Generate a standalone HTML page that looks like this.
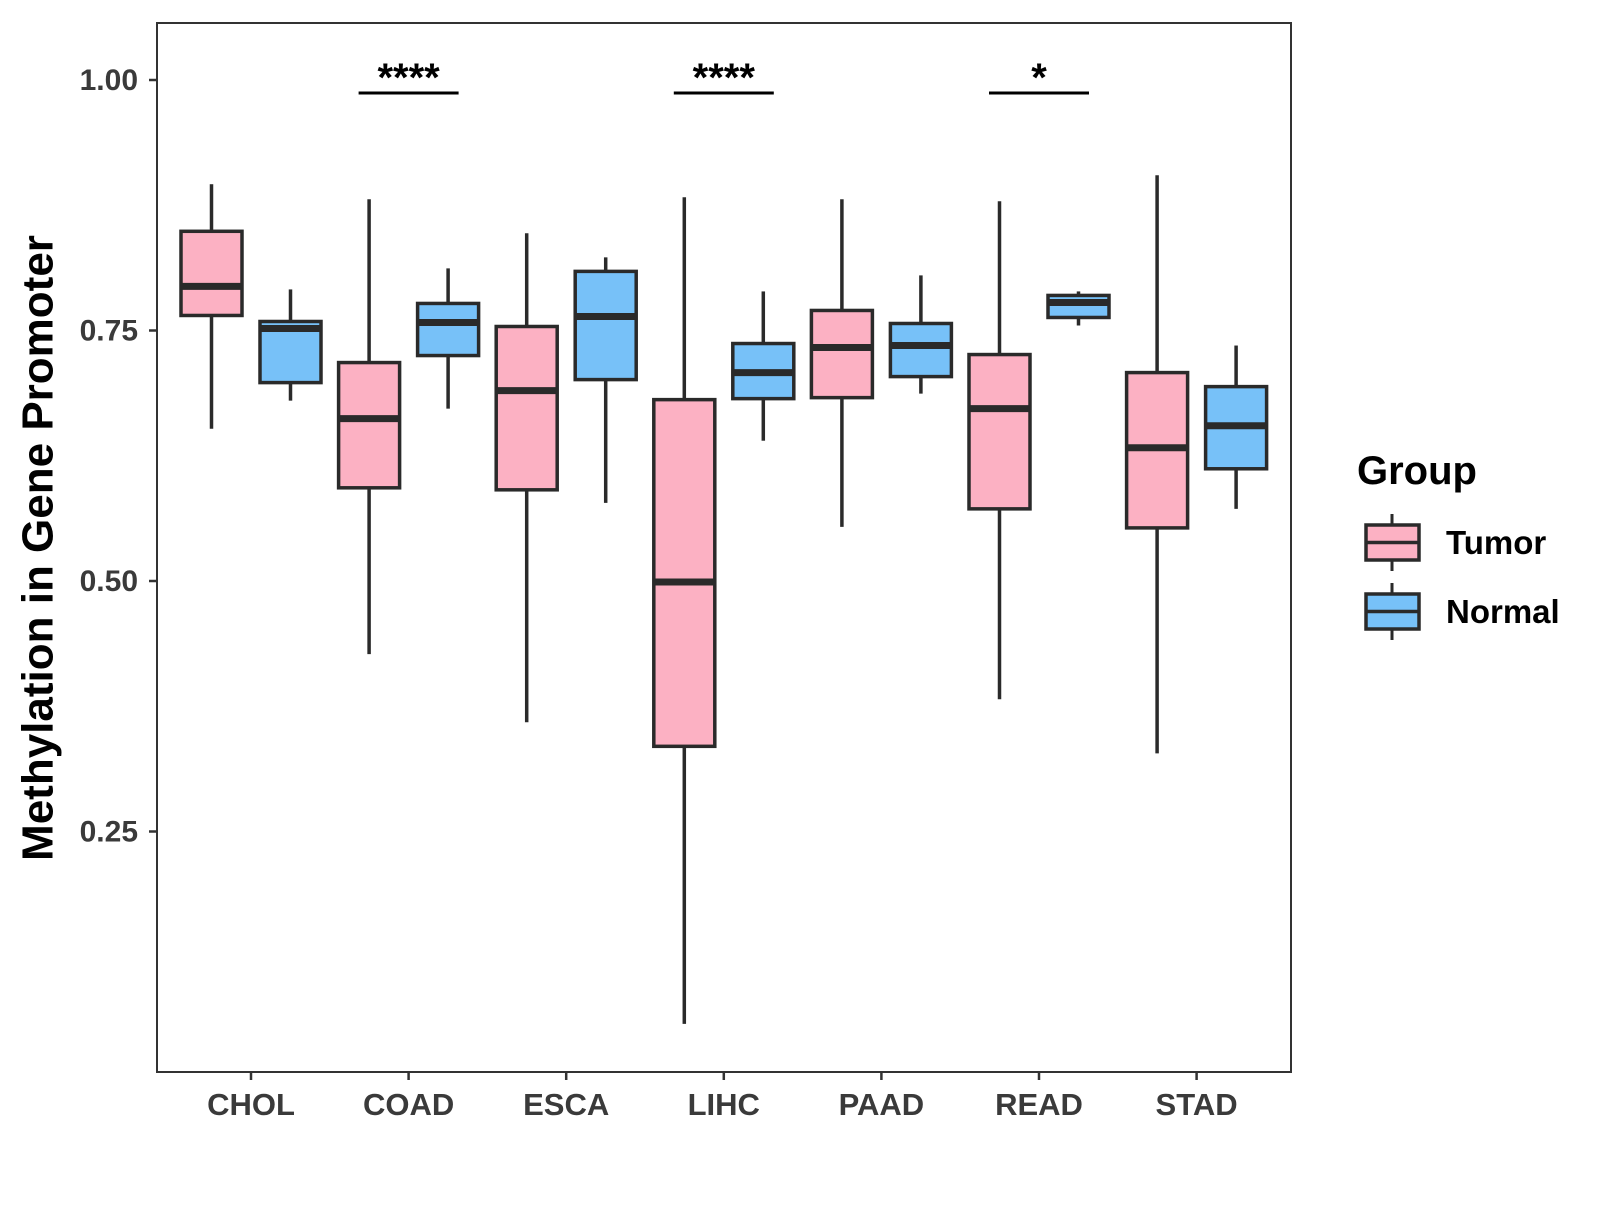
<!DOCTYPE html>
<html><head><meta charset="utf-8"><style>
body{margin:0;background:#fff}
svg text{font-family:"Liberation Sans",Arial,sans-serif;font-weight:bold}
</style></head><body>
<svg id="chart" width="1600" height="1200" xmlns="http://www.w3.org/2000/svg">
<rect x="157" y="23" width="1134" height="1049" fill="#fff" stroke="#333" stroke-width="2"/>
<g id="marks"></g>
<text x="38" y="548" transform="rotate(-90 38 548)" text-anchor="middle" dominant-baseline="central" font-size="44" fill="#000">Methylation in Gene Promoter</text>
<g>
<text x="1357" y="484" font-size="40" fill="#000">Group</text>
</g>
</svg>
<script>
const categories=["CHOL","COAD","ESCA","LIHC","PAAD","READ","STAD"];
const tumorLow=[0.652,0.427,0.359,0.058,0.554,0.382,0.328];
const tumorQ1=[0.765,0.593,0.591,0.335,0.683,0.572,0.553];
const tumorMed=[0.794,0.662,0.690,0.499,0.733,0.672,0.633];
const tumorQ3=[0.849,0.718,0.754,0.681,0.770,0.726,0.708];
const tumorHigh=[0.896,0.881,0.847,0.883,0.881,0.879,0.905];
const normalLow=[0.680,0.672,0.578,0.640,0.687,0.755,0.572];
const normalQ1=[0.698,0.725,0.701,0.682,0.704,0.763,0.612];
const normalMed=[0.752,0.758,0.764,0.708,0.735,0.778,0.655];
const normalQ3=[0.759,0.777,0.809,0.737,0.757,0.785,0.694];
const normalHigh=[0.791,0.812,0.823,0.789,0.805,0.789,0.735];
const yTicks=[0.25,0.50,0.75,1.00];
const yTickLabels=["0.25","0.50","0.75","1.00"];
const sigCategories=["COAD","LIHC","READ"];
const sigLabels=["****","****","*"];
const legendLabels=["Tumor","Normal"];
const colors=["#FCB1C3","#77C1F8"];

const NS="http://www.w3.org/2000/svg";
const svg=document.getElementById('chart');
const g=document.getElementById('marks');
const y=v=>80+(1-v)*1002;
const x=i=>251+i*157.6;
function mk(tag,attrs,parent){const e=document.createElementNS(NS,tag);for(const k in attrs)e.setAttribute(k,attrs[k]);(parent||g).appendChild(e);return e;}

yTicks.forEach((t,i)=>{
  const l=mk('line',{x1:149,x2:157,y1:y(t),y2:y(t),stroke:'#333','stroke-width':2.5},svg);
  
  
  const tx=mk('text',{x:138,y:y(t)+10,'text-anchor':'end','font-size':30,fill:'#3a3a3a'},svg);
  tx.textContent=yTickLabels[i];
  
  
});
categories.forEach((c,i)=>{
  const l=mk('line',{x1:x(i),x2:x(i),y1:1072,y2:1080,stroke:'#333','stroke-width':2.5},svg);
  
  
  const tx=mk('text',{x:x(i),y:1115,'text-anchor':'middle','font-size':31,fill:'#3a3a3a'},svg);
  tx.textContent=c;
  
  
});
function box(cx,lo,q1,md,q3,hi,fill,name){
  const grp=mk('g',{});
  
  
  const w=61;
  mk('line',{x1:cx,x2:cx,y1:y(hi),y2:y(q3),stroke:'#2a2a2a','stroke-width':3.5},grp);
  mk('line',{x1:cx,x2:cx,y1:y(q1),y2:y(lo),stroke:'#2a2a2a','stroke-width':3.5},grp);
  mk('rect',{x:cx-w/2,y:y(q3),width:w,height:y(q1)-y(q3),fill:fill,stroke:'#2a2a2a','stroke-width':3.5},grp);
  mk('line',{x1:cx-w/2,x2:cx+w/2,y1:y(md),y2:y(md),stroke:'#2a2a2a','stroke-width':7},grp);
}
categories.forEach((c,i)=>{
  box(x(i)-39.5,tumorLow[i],tumorQ1[i],tumorMed[i],tumorQ3[i],tumorHigh[i],colors[0],'box-tumor-'+c.toLowerCase());
  box(x(i)+39.5,normalLow[i],normalQ1[i],normalMed[i],normalQ3[i],normalHigh[i],colors[1],'box-normal-'+c.toLowerCase());
});
sigCategories.forEach((c,k)=>{
  const i=categories.indexOf(c);
  const l=mk('line',{x1:x(i)-50,x2:x(i)+50,y1:93,y2:93,stroke:'#000','stroke-width':3});
  
  
  const t=mk('text',{x:x(i),y:91,'text-anchor':'middle','font-size':40,fill:'#000'});
  t.textContent=sigLabels[k];
  
  
});
legendLabels.forEach((lab,k)=>{
  const top=525+k*69, cx=1392;
  const grp=mk('g',{},svg);
  
  
  mk('line',{x1:cx,x2:cx,y1:top-11,y2:top+46,stroke:'#2a2a2a','stroke-width':3},grp);
  mk('rect',{x:1366,y:top,width:53,height:35,fill:colors[k],stroke:'#2a2a2a','stroke-width':3.5},grp);
  mk('line',{x1:1366,x2:1419,y1:top+17.5,y2:top+17.5,stroke:'#2a2a2a','stroke-width':3.5},grp);
  const t=mk('text',{x:1446,y:top+29,'font-size':33,fill:'#000'},grp);
  t.textContent=lab;
});
</script>
</body></html>
